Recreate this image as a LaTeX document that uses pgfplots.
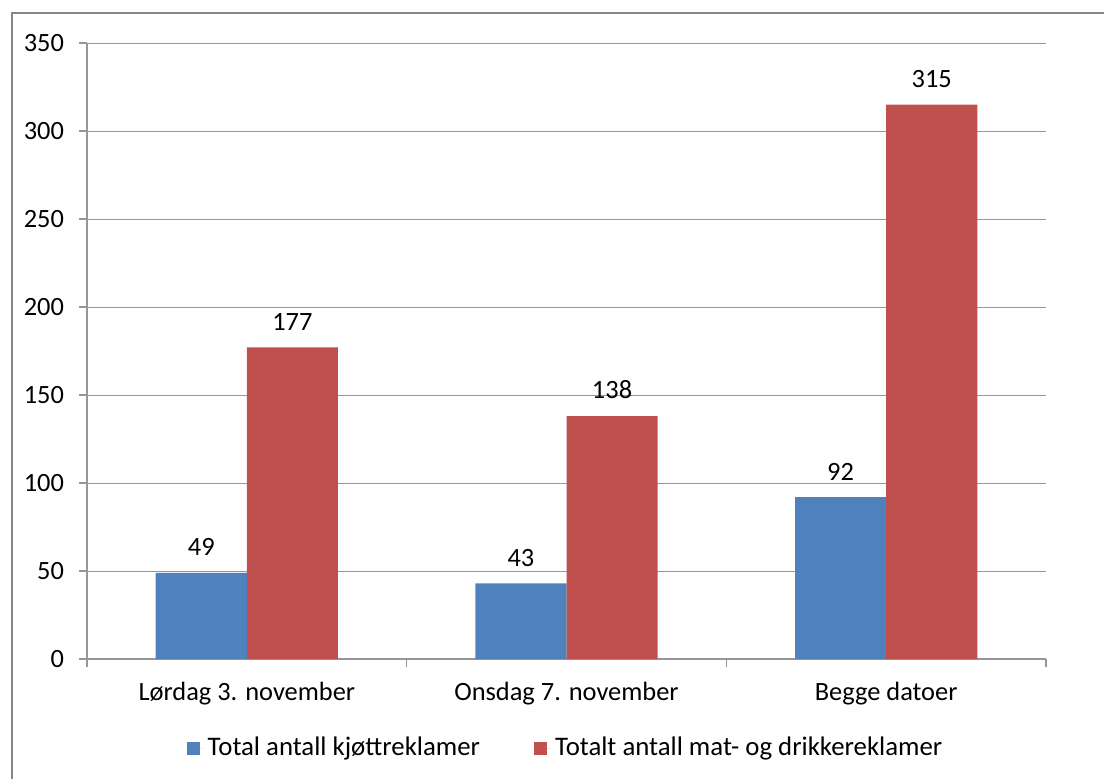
\documentclass[border=0pt]{standalone}
\usepackage{fontspec}
\setmainfont{Carlito}
\usepackage{pgfplots}
\pgfplotsset{compat=1.18}
\definecolor{xblue}{RGB}{79,129,189}
\definecolor{xred}{RGB}{192,80,77}
\definecolor{gridc}{RGB}{150,150,150}
\definecolor{framec}{RGB}{134,134,134}
\begin{document}
\begin{tikzpicture}
\useasboundingbox (0pt,0pt) rectangle (552pt,389pt);
\draw[framec, line width=1.3pt] (6pt,-10pt) -- (6pt,382.5pt) -- (570pt,382.5pt);
\begin{axis}[
  at={(43.5pt,59.5pt)}, anchor=south west,
  scale only axis, width=479.5pt, height=308pt,
  ybar=0pt, bar width=0.285,
  xmin=-0.5, xmax=2.5, ymin=0, ymax=350,
  xtick={-0.5,0.5,1.5,2.5}, xticklabels={},
  extra x ticks={0,1,2},
  extra x tick labels={Lørdag 3. november, Onsdag 7. november, Begge datoer},
  extra x tick style={major tick length=0pt},
  xticklabel style={yshift=-8pt},
  yticklabel style={xshift=-4pt},
  ytick={0,50,...,350},
  ymajorgrids, grid style={gridc, line width=0.5pt},
  axis x line*=bottom, axis y line*=left,
  axis line style={gridc, line width=0.6pt, -},
  tick style={gridc, line width=0.6pt},
  tick align=outside, major tick length=4pt,
  tick label style={font=\fontsize{13.2}{15}\selectfont, text=black},
  /pgf/number format/assume math mode=true,
  nodes near coords,
  nodes near coords style={font=\fontsize{13.2}{15}\selectfont, text=black, anchor=south, yshift=5pt},
  legend style={at={(0.5,-0.1445)}, anchor=center, draw=none, legend columns=2,
    font=\fontsize{13.4}{15}\selectfont,
    /tikz/every even column/.append style={column sep=25pt}},
  legend image code/.code={\fill[#1] (0pt,-3.25pt) rectangle (6.5pt,3.25pt); \path (0pt,0pt) -- (8.5pt,0pt);},
]
\addplot[fill=xblue, draw=none] coordinates {(0,49) (1,43) (2,92)};
\addplot[fill=xred, draw=none] coordinates {(0,177) (1,138) (2,315)};
\legend{Total antall kjøttreklamer, Totalt antall mat- og drikkereklamer}
\end{axis}
\end{tikzpicture}
\end{document}
